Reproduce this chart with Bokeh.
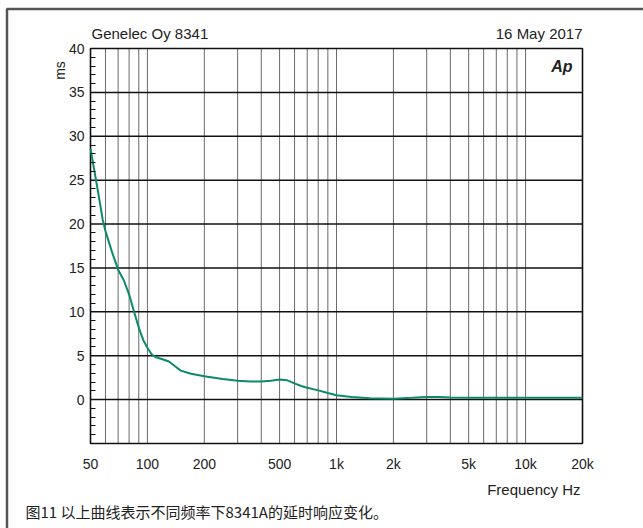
from bokeh.plotting import figure
from bokeh.models import FixedTicker, Label, Range1d
from bokeh.embed import file_html
from bokeh.resources import INLINE
import math

# ---------------- data ----------------
freq = [50, 52, 55, 58, 60, 65, 70, 75, 80, 85, 90, 95, 100, 105, 110, 120, 130, 140, 150, 170,
        200, 250, 300, 350, 400, 450, 500, 550, 600, 650, 700, 800, 900, 1000, 1200, 1500,
        2000, 2500, 3000, 3500, 4000, 5000, 7000, 10000, 15000, 20000]
delay_ms = [28.6, 26.5, 23.5, 20.5, 19.2, 16.8, 14.8, 13.6, 12.0, 10.0, 8.2, 6.8, 5.9, 5.2, 4.85, 4.6, 4.35, 3.8, 3.3, 2.95,
            2.65, 2.35, 2.15, 2.05, 2.05, 2.15, 2.3, 2.2, 1.85, 1.55, 1.35, 1.05, 0.75, 0.5, 0.3, 0.15,
            0.1, 0.2, 0.3, 0.3, 0.25, 0.2, 0.2, 0.2, 0.2, 0.2]

x_ticks = [50, 100, 200, 500, 1000, 2000, 5000, 10000, 20000]
x_tick_labels = ["50", "100", "200", "500", "1k", "2k", "5k", "10k", "20k"]
x_grid = [60, 70, 80, 90, 100, 200, 300, 400, 500, 600, 700, 800, 900,
          1000, 2000, 3000, 4000, 5000, 6000, 7000, 8000, 9000, 10000]
y_ticks = [0, 5, 10, 15, 20, 25, 30, 35, 40]
y_minor = [v for v in range(-4, 40) if v % 5 != 0]
y_grid = [0, 5, 10, 15, 20, 25, 30, 35]
x_min, x_max = 50, 20000
y_min, y_max = -5, 40

# ---------------- layout (pixel geometry of the plot area) ----------------
W, H = 643, 528
L_PX, R_PX, T_PX, B_PX = 90, 582, 48, 443
DEC = (R_PX - L_PX) / math.log10(x_max / x_min)
UNIT = (B_PX - T_PX) / (y_max - y_min)

def X(px):
    return x_min * 10 ** ((px - L_PX) / DEC)

def Y(py):
    return y_max - (py - T_PX) / UNIT

FONT = "Liberation Sans"
TXT = "#222222"

p = figure(width=W, height=H, x_axis_type="log", output_backend="svg", toolbar_location=None,
           x_range=Range1d(X(0), X(W)), y_range=Range1d(Y(H), Y(0)),
           min_border=0)
p.background_fill_color = "white"
p.border_fill_color = "white"
p.outline_line_color = None
p.grid.visible = False

# axes pinned to the plot area
p.xaxis.fixed_location = y_min
p.xaxis.bounds = (x_min, x_max)
p.xaxis.ticker = FixedTicker(ticks=x_ticks)
p.xaxis.major_label_overrides = {t: l for t, l in zip(x_ticks, x_tick_labels)}
p.xaxis.major_tick_out = 0
p.xaxis.major_tick_in = 0
p.xaxis.minor_tick_out = 0
p.xaxis.minor_tick_in = 0
p.xaxis.axis_line_color = None
p.xaxis.major_label_standoff = 12
p.xaxis.major_label_text_font = FONT
p.xaxis.major_label_text_font_size = "14px"
p.xaxis.major_label_text_color = TXT

p.yaxis.fixed_location = x_min
p.yaxis.bounds = (y_min, y_max)
p.yaxis.ticker = FixedTicker(ticks=y_ticks, minor_ticks=y_minor)
p.yaxis.major_tick_out = 0
p.yaxis.major_tick_in = 0
p.yaxis.minor_tick_out = 0
p.yaxis.minor_tick_in = 5
p.yaxis.minor_tick_line_color = "#111111"
p.yaxis.minor_tick_line_width = 1.2
p.yaxis.axis_line_color = None
p.yaxis.major_label_standoff = 6
p.yaxis.major_label_text_font = FONT
p.yaxis.major_label_text_font_size = "14px"
p.yaxis.major_label_text_color = TXT

# grid lines
p.segment(x0=x_grid, y0=[y_min] * len(x_grid), x1=x_grid, y1=[y_max] * len(x_grid),
          line_color="#6a6a6a", line_width=1)
p.segment(x0=[x_min] * len(y_grid), y0=y_grid, x1=[x_max] * len(y_grid), y1=y_grid,
          line_color="#111111", line_width=1.5)

# plot-area border
p.quad(left=[x_min], right=[x_max], bottom=[y_min], top=[y_max],
       fill_color=None, line_color="#111111", line_width=1.6)

# curve
p.line(freq, delay_ms, line_color="#0b8a6c", line_width=2)

# outer frame (left and top edges of the figure box)
p.line(x=[X(6.5), X(6.5), X(W + 50)], y=[Y(H + 50), Y(8.5), Y(8.5)],
       line_color="#555555", line_width=2.5)

# texts
def lab(px, py, text, align="left", size="14px", font=FONT, angle=0, style="normal"):
    p.add_layout(Label(x=X(px), y=Y(py), text=text, text_align=align, text_baseline="middle",
                       text_font=font, text_font_size=size, text_color=TXT,
                       angle=angle, text_font_style=style))

lab(91, 33, "Genelec Oy 8341", size="15px")
lab(582, 33, "16 May 2017", align="right", size="15px")
lab(59, 70, "ms", align="center", angle=math.pi / 2)
lab(572, 66, "Ap", align="right", size="16px", style="bold italic")
lab(580, 489, "Frequency Hz", align="right", size="15px")
lab(25, 511, "图11 以上曲线表示不同频率下8341A的延时响应变化。", size="15px", font="Noto Sans CJK SC")

open("out.html", "w").write(file_html(p, INLINE))
